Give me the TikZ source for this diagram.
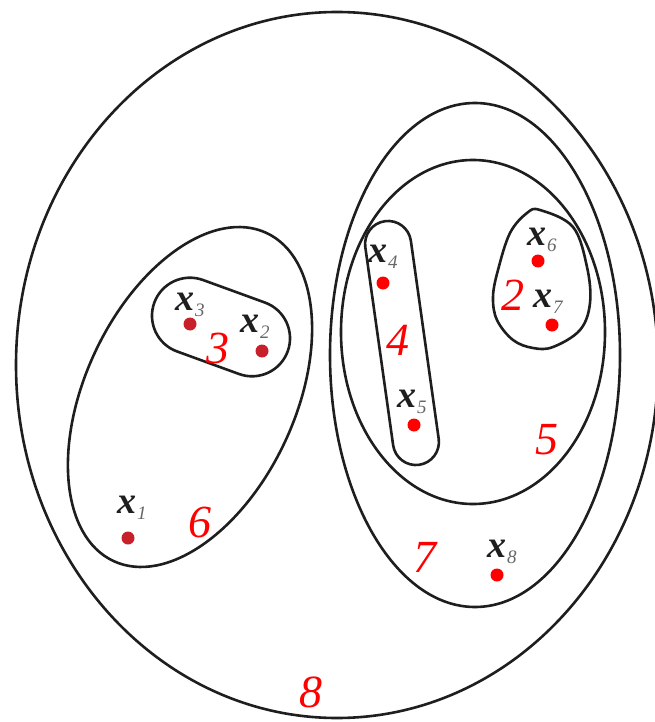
\documentclass[tikz,border=0pt]{standalone}
\usepackage{fontspec}
\setmainfont{Liberation Serif}
\definecolor{dotdark}{RGB}{200,32,42}
\definecolor{ink}{RGB}{30,30,30}
\tikzset{
  ring/.style={draw=ink, line width=2.6pt},
  pt/.style={circle, fill=red, draw=none, inner sep=0pt, minimum size=13pt},
  ptd/.style={pt, fill=dotdark},
  xlab/.style={anchor=base west, inner sep=0pt, text=ink,
    font=\fontsize{38}{40}\selectfont\bfseries\itshape},
  num/.style={text=red, inner sep=0pt, font=\fontsize{46}{48}\selectfont\itshape}
}
\newcommand{\xsub}[1]{x\kern1pt\raisebox{-6pt}{\fontsize{19}{20}\selectfont\mdseries\itshape\color{black!60}#1}}
\begin{document}
\begin{tikzpicture}[x=1pt,y=-1pt]
\useasboundingbox (0,0) rectangle (655,722);
% cluster outlines
\draw[ring] (337,365) ellipse [x radius=321pt, y radius=353pt];
\draw[ring] (475,355) ellipse [x radius=145pt, y radius=252pt];
\draw[ring] (473,332) ellipse [x radius=132pt, y radius=172pt];
\draw[ring, rotate around={65:(190,397)}] (190,397) ellipse [x radius=181pt, y radius=105pt];
\draw[ring, rounded corners=38pt, rotate around={-20:(221,327)}] (150,289) rectangle (292,365);
\draw[ring, rounded corners=23pt, rotate around={8:(402,343)}] (379,220) rectangle (425,466);
\draw[ring] plot[smooth cycle, tension=0.6] coordinates {
  (540,210) (573,227) (587,267) (590,303) (580,330) (553,347) (533,348)
  (513,340) (497,320) (493,297) (498,270) (510,233) (527,213)};
% points
\node[ptd] (p1) at (128,538) {};
\node[ptd] (p2) at (262,351) {};
\node[ptd] (p3) at (190,324) {};
\node[pt] (p4) at (383,283) {};
\node[pt] (p5) at (414,425) {};
\node[pt] (p6) at (538,261) {};
\node[pt] (p7) at (552,325) {};
\node[pt] (p8) at (497,575) {};
% point labels
\node[xlab] (l1) at (117,513) {\xsub{1}};
\node[xlab] (l2) at (240,332) {\xsub{2}};
\node[xlab] (l3) at (175,310) {\xsub{3}};
\node[xlab] (l4) at (368,262) {\xsub{4}};
\node[xlab] (l5) at (397,407) {\xsub{5}};
\node[xlab] (l6) at (527,245) {\xsub{6}};
\node[xlab] (l7) at (533,307) {\xsub{7}};
\node[xlab] (l8) at (487,557) {\xsub{8}};
% cluster numbers
\node[num] (n2) at (513,295) {2};
\node[num] (n3) at (218,348) {3};
\node[num] (n4) at (398,340) {4};
\node[num] (n5) at (547,440) {5};
\node[num] (n6) at (200,522) {6};
\node[num] (n7) at (425,557) {7};
\node[num] (n8) at (311,692) {8};
\end{tikzpicture}
\end{document}
